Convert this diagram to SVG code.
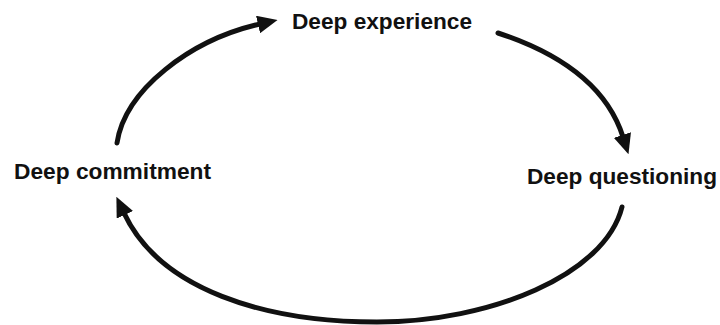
<svg xmlns="http://www.w3.org/2000/svg" width="720" height="325" viewBox="0 0 720 325">
<style>
.lbl{font-family:"Liberation Sans",Arial,sans-serif;font-weight:bold;font-size:22px;fill:#111}
.arc{fill:none;stroke:#111;stroke-width:5;stroke-linecap:round}
</style>
<defs>
<marker id="ah" viewBox="0 0 20 18" refX="2" refY="9" markerWidth="20" markerHeight="18" markerUnits="userSpaceOnUse" orient="auto">
<path d="M0,0 L20,9 L0,18 Z" fill="#111"/>
</marker>
</defs>
<rect width="720" height="325" fill="#fff"/>
<g id="connectors">
<path class="arc" d="M117,143 C125,90 190,40 260,24" marker-end="url(#ah)"/>
<path class="arc" d="M498,33 C565,55 608,90 623,137" marker-end="url(#ah)"/>
<path class="arc" d="M622,207 C605,275 490,322 377,322 C265,322 160,290 124,213" marker-end="url(#ah)"/>
</g>
<g id="experience"><text class="lbl" x="292" y="29" textLength="180" lengthAdjust="spacingAndGlyphs">Deep experience</text></g>
<g id="questioning"><text class="lbl" x="527" y="184" textLength="190" lengthAdjust="spacingAndGlyphs">Deep questioning</text></g>
<g id="commitment"><text class="lbl" x="14" y="179" textLength="197" lengthAdjust="spacingAndGlyphs">Deep commitment</text></g>
</svg>
